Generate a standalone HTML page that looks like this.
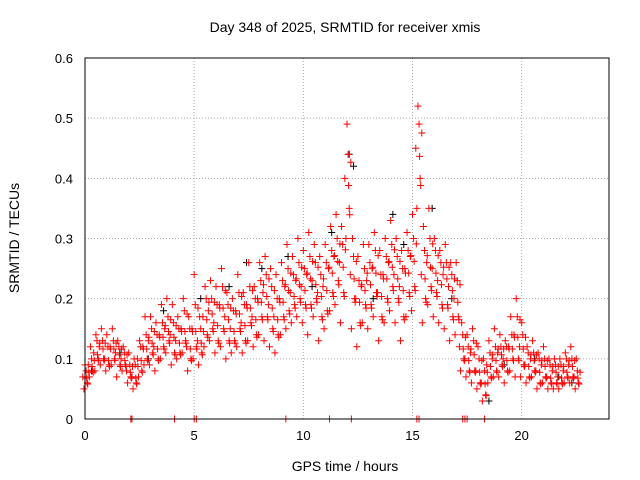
<!DOCTYPE html>
<html><head><meta charset="utf-8"><style>
html,body{margin:0;padding:0;background:#fff;}
svg{display:block;font-family:"Liberation Sans",sans-serif;}
</style></head><body>
<svg id="chart" width="640" height="480">
<text x="345" y="32" font-size="14" text-anchor="middle">Day 348 of 2025, SRMTID for receiver xmis</text>
<text x="345" y="471" font-size="14" text-anchor="middle">GPS time / hours</text>
<text transform="translate(19,238) rotate(-90)" font-size="14" text-anchor="middle">SRMTID / TECUs</text>
<g id="grid"></g><g id="ticks"></g><g id="marks"></g>
<rect x="85" y="58" width="524" height="361" fill="none" stroke="#000" stroke-width="1"/>
</svg>
<script>
const xTicks=[0,5,10,15,20];
const yTicks=[0,0.1,0.2,0.3,0.4,0.5,0.6];
const yTickLabels=["0","0.1","0.2","0.3","0.4","0.5","0.6"];
const v1=[.07,.09,.11,.12,.10,.12,.11,.10,.08,.07,.10,.12,.13,.12,.14,.15,.14,.13,.15,.12,.15,.13,.17,.18,.16,.19,.17,.15,.18,.16,.19,.17,.20,.21,.19,.17,.20,.22,.21,.23,.22,.24,.23,.21,.22,.25,.27,.26,.40,.24,.20,.22,.23,.25,.21,.24,.26,.24,.22,.25,.27,.45,.24,.26,.25,.23,.24,.22,.20,.12,.10,.11,.08,.06,.09,.10,.11,.10,.12,.14,.12,.09,.10,.08,.09,.07,.08,.07,.08,.09,.07];
const v2=[.05,.07,.08,.09,.08,.09,.07,.08,.06,.05,.07,.09,.09,.08,.10,.11,.09,.10,.11,.08,.10,.09,.12,.13,.11,.12,.10,.11,.12,.11,.13,.12,.14,.13,.12,.11,.14,.15,.16,.17,.16,.14,.17,.13,.15,.18,.19,.16,.30,.15,.12,.16,.15,.17,.13,.16,.18,.16,.13,.17,.18,.35,.16,.19,.17,.16,.15,.13,.14,.08,.07,.06,.05,.03,.06,.07,.07,.06,.08,.07,.07,.06,.07,.05,.06,.05,.05,.05,.06,.06,.05];
const v3=[.09,.12,.14,.15,.14,.15,.13,.12,.11,.10,.13,.17,.17,.16,.19,.20,.19,.17,.20,.17,.24,.17,.22,.23,.22,.25,.21,.20,.24,.21,.26,.22,.26,.27,.25,.24,.26,.29,.27,.30,.28,.31,.29,.27,.29,.32,.34,.32,.49,.30,.27,.29,.29,.31,.28,.30,.33,.30,.28,.31,.34,.52,.32,.35,.30,.28,.29,.26,.26,.16,.14,.15,.12,.10,.13,.15,.14,.13,.17,.20,.16,.12,.13,.11,.12,.10,.10,.10,.11,.12,.10];
const v4=[.08,.10,.13,.13,.12,.13,.12,.11,.09,.09,.12,.14,.15,.14,.16,.17,.16,.15,.18,.15,.19,.15,.20,.20,.19,.22,.19,.18,.21,.19,.22,.20,.23,.24,.22,.20,.23,.25,.24,.26,.25,.27,.26,.24,.26,.28,.30,.29,.44,.27,.23,.25,.26,.28,.24,.27,.29,.27,.25,.28,.30,.49,.28,.30,.28,.26,.26,.24,.23,.14,.12,.13,.10,.08,.11,.12,.12,.12,.14,.17,.14,.11,.11,.10,.10,.09,.09,.09,.10,.10,.08];
const v5=[.06,.08,.10,.10,.09,.10,.09,.09,.07,.06,.08,.10,.11,.10,.12,.13,.11,.11,.13,.10,.12,.11,.14,.15,.13,.15,.13,.13,.15,.13,.16,.14,.17,.17,.15,.14,.17,.18,.19,.20,.19,.19,.20,.17,.18,.21,.23,.21,.35,.20,.16,.19,.19,.21,.17,.20,.22,.20,.17,.21,.22,.40,.20,.22,.21,.19,.19,.17,.17,.10,.08,.08,.06,.04,.07,.08,.09,.08,.10,.10,.09,.07,.08,.06,.07,.06,.06,.06,.07,.07,.06];
const blackTimes=[0.3,1.6,2.9,3.6,4.4,5.3,6.6,7.4,8.1,9.3,10.4,11.3,12.1,12.3,13.2,14.1,14.6,15.9,16.8,18.5,19.2,20.6,21.7,22.3];
const blackVals=[.08,.11,.10,.18,.15,.20,.22,.26,.25,.27,.22,.31,.44,.42,.20,.34,.29,.35,.20,.03,.09,.10,.07,.06];
const zeroTimes=[2.1,2.15,4.1,5.0,5.1,9.2,11.2,12.2,15.2,15.3,17.3,17.4,17.5,18.3];
const X=t=>85+t*(524/24), Y=v=>419-v*(361/0.6);
const NS="http://www.w3.org/2000/svg";
const grid=document.getElementById('grid'),ticks=document.getElementById('ticks'),marks=document.getElementById('marks');
function mk(tag,attrs,parent){const e=document.createElementNS(NS,tag);for(const k in attrs)e.setAttribute(k,attrs[k]);parent.appendChild(e);return e;}
xTicks.forEach(t=>{
 if(t>0){const g=mk('line',{x1:X(t),x2:X(t),y1:58,y2:419,stroke:'#aaa','stroke-dasharray':'1,2'},grid);
 
 }
 const l=mk('text',{x:X(t),y:440,'font-size':13,'text-anchor':'middle'},ticks);l.textContent=t;
 
 
});
yTicks.forEach((v,i)=>{
 if(v>0&&v<0.6){const g=mk('line',{x1:85,x2:609,y1:Y(v),y2:Y(v),stroke:'#aaa','stroke-dasharray':'1,2'},grid);
 
 }
 const l=mk('text',{x:73,y:Y(v)+5,'font-size':13,'text-anchor':'end'},ticks);l.textContent=yTickLabels[i];
 
 
});
function plus(t,v,c){const x=X(t),y=Y(v);
 const p=mk('path',{d:`M${x-3.5} ${y}h7M${x} ${y-3.5}v7`,stroke:c,'stroke-width':1,fill:'none'},marks);
 
 }
blackTimes.forEach((t,i)=>plus(t,blackVals[i],'#000'));
const offs=[-0.1,-0.05,0,0.05,0.1];
[v1,v2,v3,v4,v5].forEach((arr,k)=>arr.forEach((v,i)=>plus(i*0.25+offs[k],v,'#f00')));
[v1,v5,v4].forEach((arr,k)=>arr.forEach((v,i)=>plus(i*0.25+0.125+offs[k+1],v*0.97,'#f00')));
zeroTimes.forEach(t=>plus(t,0,'#f00'));
</script>
</body></html>
